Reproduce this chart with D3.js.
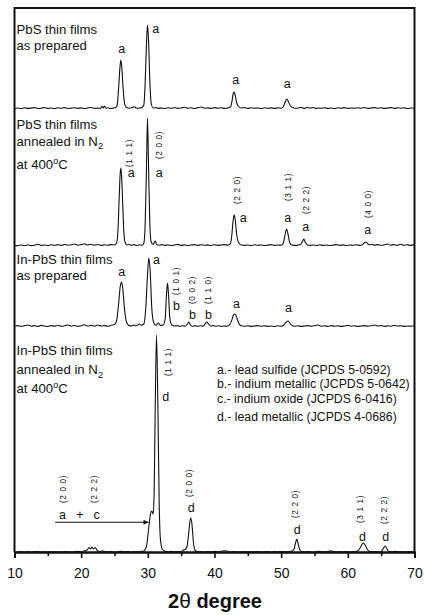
<!DOCTYPE html>
<html>
<head>
<meta charset="utf-8">
<script src="https://cdn.jsdelivr.net/npm/d3@7"></script>
<style>
  body { margin: 0; background: #fff; }
  text { font-family: Arial, "Liberation Sans", sans-serif; fill: #111; }
</style>
</head>
<body>
<svg id="chart" width="425" height="615"></svg>
<script>
// ---- data -------------------------------------------------------------
const xTicks = [10, 20, 30, 40, 50, 60, 70];
const xMinorTicks = [15, 25, 35, 45, 55, 65];

// vertical offset (a.u.) at which each pattern is stacked
const stackOffsets = [4430, 3060, 2250, 0];

// [2θ, intensity a.u.]
const pbsAsPrepared = [
  [10,4],[10.5,10],[11,5],[11.5,12],[12,6],[12.5,9],[13,14],[13.5,5],[14,8],[14.5,15],[15,6],[15.5,10],
  [16,4],[16.5,12],[17,7],[17.5,14],[18,5],[18.5,9],[19,13],[19.5,6],[20,11],[20.5,4],[21,10],[21.5,15],
  [22,6],[22.5,9],[22.9,5],[23.1,28],[23.3,10],[23.5,30],[23.7,8],[24,12],[24.4,5],[24.8,9],[25.2,14],
  [25.4,40],[25.6,190],[25.8,400],[25.95,490],[26.1,410],[26.3,200],[26.5,60],[26.8,14],[27.2,8],[27.6,12],
  [28,22],[28.3,8],[28.7,10],[29.1,14],[29.4,40],[29.6,260],[29.8,660],[29.95,840],[30.1,700],[30.3,280],
  [30.5,60],[30.8,10],[31.2,14],[31.6,6],[32,11],[32.5,5],[33,12],[33.5,7],[34,15],[34.5,6],[35,10],
  [35.5,18],[36,7],[36.5,12],[37,5],[37.5,14],[38,20],[38.5,8],[39,11],[39.5,6],[40,14],[40.5,8],[41,12],
  [41.5,6],[42,10],[42.4,20],[42.6,70],[42.8,150],[42.95,170],[43.1,140],[43.3,70],[43.6,25],[44,10],
  [44.5,14],[45,6],[45.5,12],[46,8],[46.5,10],[47,5],[47.5,12],[48,7],[48.5,11],[49,6],[49.5,12],[50,8],
  [50.3,20],[50.6,70],[50.85,100],[51.1,70],[51.4,30],[51.7,18],[52,8],[52.5,10],[53,16],[53.5,6],[54,18],
  [54.4,8],[54.8,15],[55.2,6],[55.6,10],[56,7],[56.5,12],[57,6],[57.5,10],[58,5],[58.5,12],[59,8],[59.5,14],
  [60,6],[60.5,10],[61,7],[61.5,12],[62,8],[62.5,15],[63,6],[63.5,10],[64,14],[64.5,7],[65,12],[65.5,6],
  [66,10],[66.5,14],[67,6],[67.5,12],[68,8],[68.5,11],[69,5],[69.5,10],[70,8]
];

const pbsAnnealed = [
  [10,6],[10.5,3],[11,10],[11.5,5],[12,12],[12.5,4],[13,8],[13.5,18],[14,6],[14.5,10],[15,5],[15.5,12],
  [16,7],[16.5,14],[17,5],[17.5,16],[18,8],[18.5,12],[19,20],[19.5,8],[20,14],[20.5,22],[21,10],[21.5,18],
  [22,8],[22.5,15],[23,6],[23.5,12],[24,8],[24.5,14],[25,10],[25.3,30],[25.5,130],[25.7,480],[25.85,720],
  [25.95,780],[26.05,720],[26.2,480],[26.4,140],[26.6,35],[26.9,10],[27.2,18],[27.5,6],[27.9,14],[28.3,5],
  [28.7,12],[29.1,8],[29.4,30],[29.6,220],[29.8,800],[29.95,1280],[30.1,820],[30.3,220],[30.5,40],[30.8,15],
  [31.1,50],[31.35,12],[31.7,8],[32.1,14],[32.5,6],[33,12],[33.5,5],[34,10],[34.5,16],[35,6],[35.5,12],
  [36,5],[36.5,10],[37,14],[37.5,6],[38,12],[38.5,7],[39,11],[39.5,5],[40,13],[40.5,6],[41,10],[41.5,14],
  [42,8],[42.4,25],[42.6,110],[42.8,260],[42.95,310],[43.1,270],[43.3,130],[43.6,35],[44,10],[44.5,6],
  [45,10],[45.5,5],[46,12],[46.5,7],[47,10],[47.5,5],[48,9],[48.5,14],[49,6],[49.5,10],[50,8],[50.3,25],
  [50.55,100],[50.8,170],[51.05,110],[51.3,30],[51.6,10],[52,6],[52.5,9],[52.9,15],[53.2,45],[53.4,70],
  [53.6,40],[53.9,12],[54.3,6],[54.8,10],[55.3,5],[55.8,12],[56.3,6],[56.8,10],[57.3,5],[57.8,9],[58.3,14],
  [58.8,6],[59.3,11],[59.8,5],[60.3,10],[60.8,7],[61.3,12],[61.8,6],[62.2,14],[62.5,32],[62.7,40],[62.9,28],
  [63.2,12],[63.6,18],[64,8],[64.5,14],[65,7],[65.5,12],[66,20],[66.4,8],[66.9,14],[67.4,6],[67.9,18],
  [68.4,7],[68.9,12],[69.4,6],[70,14]
];

const inPbsAsPrepared = [
  [10,8],[10.5,14],[11,6],[11.5,12],[12,20],[12.5,8],[13,14],[13.5,6],[14,16],[14.5,10],[15,5],[15.5,14],
  [16,8],[16.5,18],[17,7],[17.5,12],[18,20],[18.5,8],[19,15],[19.5,6],[20,12],[20.5,22],[21,10],[21.5,16],
  [22,8],[22.5,20],[23,10],[23.5,14],[24,8],[24.5,18],[25,24],[25.3,60],[25.6,220],[25.85,400],[26.05,450],
  [26.25,380],[26.5,180],[26.8,50],[27.1,18],[27.5,10],[27.9,20],[28.3,12],[28.7,30],[29,18],[29.4,30],
  [29.7,200],[29.95,520],[30.15,690],[30.35,560],[30.6,180],[30.9,40],[31.2,18],[31.6,40],[31.9,15],[32.3,20],
  [32.6,80],[32.8,330],[32.95,440],[33.1,330],[33.3,90],[33.6,20],[34,10],[34.4,14],[34.8,6],[35.2,12],
  [35.6,8],[35.9,25],[36.15,50],[36.4,20],[36.7,8],[37.1,14],[37.5,7],[37.9,12],[38.3,9],[38.6,30],[38.85,50],
  [39.1,32],[39.4,10],[39.8,14],[40.2,8],[40.6,12],[41,6],[41.4,10],[41.8,8],[42.2,18],[42.6,70],[42.9,125],
  [43.1,130],[43.4,80],[43.7,30],[44,12],[44.5,8],[45,12],[45.5,6],[46,10],[46.5,14],[47,7],[47.5,12],
  [48,6],[48.5,10],[49,5],[49.5,12],[50,8],[50.4,20],[50.7,45],[51,60],[51.3,40],[51.6,15],[52,8],[52.5,12],
  [53,6],[53.5,10],[54,14],[54.5,8],[55,12],[55.5,20],[56,8],[56.5,12],[57,6],[57.5,14],[58,8],[58.5,12],
  [59,6],[59.5,10],[60,16],[60.5,8],[61,12],[61.5,6],[62,10],[62.5,14],[63,8],[63.5,12],[64,20],[64.5,10],
  [65,14],[65.5,6],[66,12],[66.5,8],[67,16],[67.5,10],[68,12],[68.5,6],[69,10],[69.5,8],[70,12]
];

const inPbsAnnealed = [
  [10,2],[10.5,0],[11,4],[11.5,0],[12,3],[12.5,0],[13,2],[13.5,5],[14,0],[14.5,3],[15,0],[15.5,4],[16,1],
  [16.5,3],[17,0],[17.5,4],[18,2],[18.5,0],[19,3],[19.5,6],[20,2],[20.5,12],[20.9,20],[21.2,45],[21.4,30],
  [21.6,50],[21.85,30],[22.1,45],[22.4,15],[22.8,5],[23.2,12],[23.6,3],[24,2],[24.5,5],[25,0],[25.5,3],
  [26,6],[26.5,2],[27,5],[27.5,0],[28,4],[28.5,2],[29,6],[29.4,10],[29.8,60],[30.1,220],[30.4,380],
  [30.6,410],[30.8,380],[30.95,600],[31.1,1400],[31.3,2170],[31.5,1500],[31.7,500],[31.9,120],[32.2,25],
  [32.6,8],[33,3],[33.5,6],[34,2],[34.5,5],[35,3],[35.3,18],[35.6,25],[35.9,60],[36.15,200],[36.4,340],
  [36.6,290],[36.85,90],[37.1,15],[37.5,3],[38,5],[38.5,0],[39,4],[39.5,2],[40,6],[40.5,3],[41,8],[41.5,12],
  [42,8],[42.5,3],[43,5],[43.5,0],[44,3],[44.5,5],[45,0],[45.5,4],[46,2],[46.5,5],[47,0],[47.5,3],[48,5],
  [48.5,0],[49,4],[49.5,2],[50,5],[50.5,2],[51,4],[51.5,6],[51.9,25],[52.15,90],[52.35,130],[52.55,80],
  [52.8,20],[53.2,4],[53.7,2],[54.2,5],[54.7,0],[55.2,3],[55.7,6],[56.2,2],[56.7,4],[57.2,8],[57.5,12],
  [57.8,5],[58.3,0],[58.8,4],[59.3,2],[59.8,5],[60.3,0],[60.8,4],[61.3,8],[61.7,25],[62,60],[62.3,90],
  [62.6,70],[62.9,30],[63.2,8],[63.7,3],[64.2,5],[64.7,0],[65.1,10],[65.4,45],[65.6,60],[65.8,40],[66.1,8],
  [66.6,3],[67.1,6],[67.6,2],[68.1,4],[68.6,0],[69.1,5],[69.6,2],[70,3]
];

const patterns = [pbsAsPrepared, pbsAnnealed, inPbsAsPrepared, inPbsAnnealed];

// sample descriptions, one list of lines per pattern
const sampleLabels = [
  ["PbS thin films", "as prepared"],
  ["PbS thin films", "annealed in N2", "at 400oC"],
  ["In-PbS thin films", "as prepared"],
  ["In-PbS thin films", "annealed in N2", "at 400oC"]
];

// phase letters: [pattern, 2θ, intensity above pattern baseline, letter]
const phaseLetters = [
  [0, 26.08, 563, "a"], [0, 31.2, 763, "a"], [0, 43.2, 250, "a"], [0, 50.9, 207, "a"],
  [1, 27.5, 693, "a"], [1, 31.7, 693, "a"], [1, 44.3, 243, "a"], [1, 51.0, 243, "a"],
  [1, 53.7, 153, "a"], [1, 63.0, 120, "a"],
  [2, 26.1, 510, "a"], [2, 31.3, 630, "a"], [2, 34.3, 170, "b"], [2, 36.7, 77, "b"],
  [2, 39.1, 77, "b"], [2, 43.3, 187, "a"], [2, 51.1, 153, "a"],
  [3, 32.7, 1510, "d"], [3, 36.5, 403, "d"], [3, 52.4, 180, "d"], [3, 62.2, 113, "d"],
  [3, 65.7, 113, "d"], [3, 17.2, 330, "a"], [3, 19.8, 330, "+"], [3, 22.3, 330, "c"]
];

// Miller indices: [pattern, 2θ, intensity above pattern baseline, hkl]
const millerIndices = [
  [1, 27.2, 930, "(1 1 1)"], [1, 31.7, 1010, "(2 0 0)"], [1, 43.4, 560, "(2 2 0)"],
  [1, 51.0, 590, "(3 1 1)"], [1, 53.7, 460, "(2 2 2)"], [1, 63.0, 420, "(4 0 0)"],
  [2, 34.2, 460, "(1 0 1)"], [2, 36.6, 370, "(0 0 2)"], [2, 39.0, 370, "(1 1 0)"],
  [3, 33.0, 1900, "(1 1 1)"], [3, 36.2, 690, "(2 0 0)"], [3, 52.1, 480, "(2 2 0)"],
  [3, 61.8, 430, "(3 1 1)"], [3, 65.4, 420, "(2 2 2)"],
  [3, 17.3, 630, "(2 0 0)"], [3, 21.9, 630, "(2 2 2)"]
];

// arrow pointing at the shoulder: [pattern, from 2θ, to 2θ, intensity]
const shoulderArrow = [3, 16.1, 30.1, 297];

const legendEntries = [
  "a.- lead sulfide (JCPDS 5-0592)",
  "b.- indium metallic (JCPDS 5-0642)",
  "c.- indium oxide (JCPDS 6-0416)",
  "d.- lead metallic (JCPDS 4-0686)"
];

// ---- drawing ------------------------------------------------------------
const svg = d3.select("#chart");
const plotLeft = 14.5, plotRight = 414.5, plotTop = 8, plotBottom = 552;

const x = d3.scaleLinear().domain([10, 70]).range([plotLeft, plotRight]);
const y = d3.scaleLinear().domain([0, 5440]).range([plotBottom, plotTop]);

svg.append("defs").append("marker")
  .attr("id", "arrowhead").attr("viewBox", "0 0 10 10")
  .attr("refX", 10).attr("refY", 5)
  .attr("markerWidth", 9).attr("markerHeight", 5).attr("markerUnits", "userSpaceOnUse")
  .attr("orient", "auto")
  .append("path").attr("d", "M0,0 L10,5 L0,10 Z").attr("fill", "#111");

// diffraction patterns
const line = d3.line()
  .x(d => x(d[0]))
  .curve(d3.curveMonotoneX);

patterns.forEach((pts, i) => {
  svg.append("path")
    .datum(pts)
    .attr("fill", "none")
    .attr("stroke", "#111")
    .attr("stroke-width", 1.1)
    .attr("stroke-linejoin", "round")
    .attr("d", line.y(d => y(d[1] + stackOffsets[i])));
});

// frame
svg.append("path")
  .attr("d", `M${plotLeft},${plotBottom} L${plotLeft},${plotTop} L${plotRight},${plotTop} L${plotRight},${plotBottom}`)
  .attr("fill", "none").attr("stroke", "#111").attr("stroke-width", 2);

// x axis
const axisG = svg.append("g").attr("transform", `translate(0,${plotBottom})`);
axisG.call(d3.axisBottom(x).tickValues(xTicks).tickSize(6).tickPadding(10).tickFormat(d3.format("d")));
axisG.append("g").call(d3.axisBottom(x).tickValues(xMinorTicks).tickSize(4).tickFormat(""));
axisG.selectAll(".domain").attr("stroke", "#111").attr("stroke-width", 1.8);
axisG.selectAll(".tick line").attr("stroke", "#111").attr("stroke-width", 1.6);
axisG.selectAll(".tick text")
  .attr("font-family", "Arial, 'Liberation Sans', sans-serif")
  .attr("font-size", 14).attr("fill", "#111");

const xTitle = svg.append("text")
  .attr("x", 215).attr("y", 608)
  .attr("text-anchor", "middle")
  .attr("font-size", 20).attr("font-weight", "bold");
xTitle.append("tspan").text("2");
xTitle.append("tspan").attr("font-weight", "normal").attr("font-size", 21).text("θ");
xTitle.append("tspan").text(" degree");

// sample descriptions
const labelBaselines = [[33.5, 49.5], [129.3, 145.7, 168.5], [264, 280], [355, 374.3, 393.3]];
function richLine(sel, str) {
  // "N2" -> N with subscript 2, "400oC" -> degree-style superscript o
  const m1 = str.match(/^(.*N)2$/);
  const m2 = str.match(/^(.*\d)oC$/);
  if (m1) {
    sel.append("tspan").text(m1[1]);
    sel.append("tspan").attr("font-size", 9.5).attr("dy", 3.5).text("2");
  } else if (m2) {
    sel.append("tspan").text(m2[1]);
    sel.append("tspan").attr("font-size", 9).attr("dy", -5).text("o");
    sel.append("tspan").attr("dy", 5).text("C");
  } else {
    sel.text(str);
  }
}
sampleLabels.forEach((lines, i) => {
  lines.forEach((str, j) => {
    const t = svg.append("text")
      .attr("x", 16.5).attr("y", labelBaselines[i][j])
      .attr("font-size", 13.2);
    richLine(t, str);
  });
});

// phase letters
svg.selectAll("text.phase")
  .data(phaseLetters)
  .join("text")
  .attr("class", "phase")
  .attr("x", d => x(d[1]))
  .attr("y", d => y(d[2] + stackOffsets[d[0]]))
  .attr("text-anchor", "middle")
  .attr("font-size", 12.5)
  .text(d => d[3]);

// Miller indices, written vertically
svg.selectAll("text.hkl")
  .data(millerIndices)
  .join("text")
  .attr("class", "hkl")
  .attr("transform", d => `translate(${x(d[1])},${y(d[2] + stackOffsets[d[0]])}) rotate(-90)`)
  .attr("text-anchor", "middle")
  .attr("dominant-baseline", "central")
  .attr("font-size", 8.3)
  .attr("letter-spacing", 0.6)
  .text(d => d[3]);

// arrow to shoulder of the (111) Pb peak
svg.append("line")
  .attr("x1", x(shoulderArrow[1])).attr("x2", x(shoulderArrow[2]))
  .attr("y1", y(shoulderArrow[3] + stackOffsets[shoulderArrow[0]]))
  .attr("y2", y(shoulderArrow[3] + stackOffsets[shoulderArrow[0]]))
  .attr("stroke", "#111").attr("stroke-width", 1.1)
  .attr("marker-end", "url(#arrowhead)");

// phase legend
const legendBaselines = [373.5, 388, 403, 421];
svg.selectAll("text.legend")
  .data(legendEntries)
  .join("text")
  .attr("class", "legend")
  .attr("x", 217)
  .attr("y", (d, i) => legendBaselines[i])
  .attr("font-size", 12.3)
  .text(d => d);
</script>
</body>
</html>
